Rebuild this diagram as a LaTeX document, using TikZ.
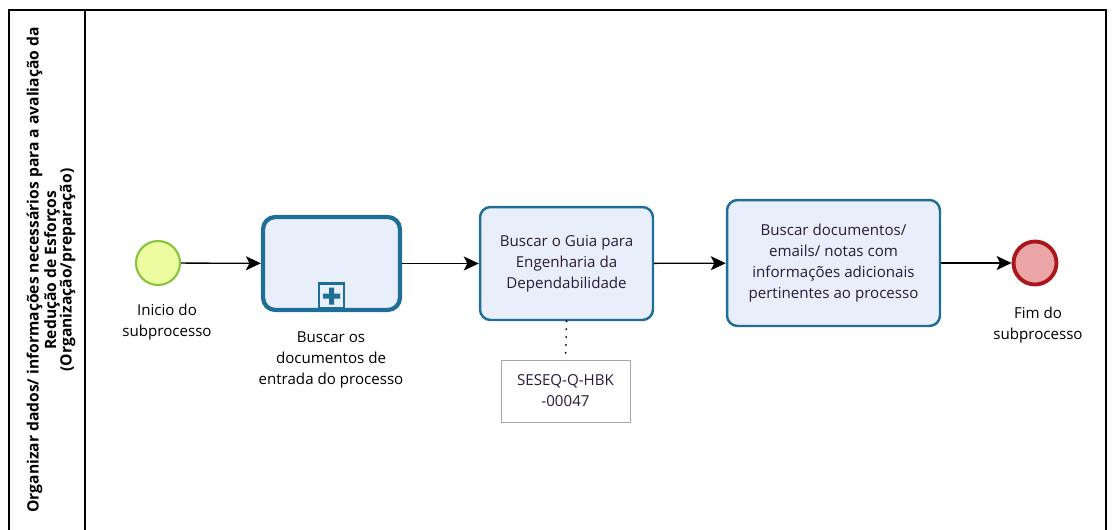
\documentclass[tikz,border=0pt]{standalone}
\usepackage{fontspec}
\setmainfont{Open Sans}
\usetikzlibrary{arrows.meta,positioning}
\definecolor{taskblue}{HTML}{1F6E96}
\definecolor{taskfill}{HTML}{E9EEFB}
\definecolor{startgreen}{HTML}{86C43C}
\definecolor{startfill}{HTML}{EDFCA0}
\definecolor{endred}{HTML}{A9171C}
\definecolor{endfill}{HTML}{EBA5A7}
\definecolor{notegray}{HTML}{A6A6A6}
\definecolor{txt}{HTML}{2B1A3A}
\tikzset{
  task/.style={draw=taskblue, fill=taskfill, rounded corners=6pt, line width=1.4pt, align=center, font=\fontsize{8.6}{12}\selectfont, text=txt},
  subproc/.style={task, line width=2.4pt, rounded corners=7pt},
  startev/.style={circle, draw=startgreen, fill=startfill, line width=1.2pt, minimum size=0.88cm, inner sep=0pt},
  endev/.style={circle, draw=endred, fill=endfill, line width=2.2pt, minimum size=0.86cm, inner sep=0pt},
  lbl/.style={align=center, font=\fontsize{8.6}{12}\selectfont},
  note/.style={draw=notegray, fill=white, align=center, font=\fontsize{8.6}{12}\selectfont, text=txt, minimum width=2.58cm, minimum height=1.24cm},
  flow/.style={-{Stealth[length=3mm, width=2.8mm, inset=0.7mm]}, line width=0.75pt},
}

\begin{document}
\begin{tikzpicture}[x=0.02cm, y=-0.02cm]
        \useasboundingbox (0,0) rectangle (1113,529);
        % pool
        \draw[line width=0.8pt] (9,540) -- (9,10) -- (1106,10) -- (1106,540);
        \draw[line width=0.8pt] (85,10) -- (85,540);
        \node[rotate=90, align=center, font=\fontsize{8.9}{8.9}\selectfont\bfseries] (lane) at (51,270)
          {Organizar dados/ informações necessários para a avaliação da\\Redução de Esforços\\(Organização/preparação)};
        % events and activities
        \node[startev] (inicio) at (158,263) {};
        \node[subproc, minimum width=2.74cm, minimum height=1.86cm] (docs) at (331.5,263.5) {};
        \node[draw=taskblue, fill=taskfill, line width=1.2pt, minimum size=0.5cm, inner sep=0pt] (plus) at (331.5,296) {};
        \fill[taskblue] ([xshift=-0.17cm,yshift=-0.05cm]plus.center) rectangle ([xshift=0.17cm,yshift=0.05cm]plus.center)
                        ([xshift=-0.05cm,yshift=-0.17cm]plus.center) rectangle ([xshift=0.05cm,yshift=0.17cm]plus.center);
        \node[task, minimum width=3.46cm, minimum height=2.26cm] (guia) at (566.5,263.5) {Buscar o Guia para\\Engenharia da\\Dependabilidade};
        \node[task, minimum width=4.26cm, minimum height=2.52cm] (emails) at (833.5,263) {Buscar documentos/\\emails/ notas com\\informações adicionais\\pertinentes ao processo};
        \node[endev] (fim) at (1035,263) {};
        \node[note] (ref) at (565.5,391) {SESEQ-Q-HBK\\-00047};
        % labels
        \node[lbl] at (167,322) {Inicio do\\subprocesso};
        \node[lbl] at (331,360) {Buscar os\\documentos de\\entrada do processo};
        \node[lbl] at (1038,325) {Fim do\\subprocesso};
        % flows
        \draw[flow] (inicio) -- (docs);
        \draw[flow] (docs) -- (guia);
        \draw[flow] (guia) -- (emails);
        \draw[flow] (emails) -- (fim);
        \draw[line width=1.2pt, dotted, line cap=round, dash pattern=on 0pt off 4.5pt] (guia.south) -- (ref.north);
      \end{tikzpicture}
\end{document}
